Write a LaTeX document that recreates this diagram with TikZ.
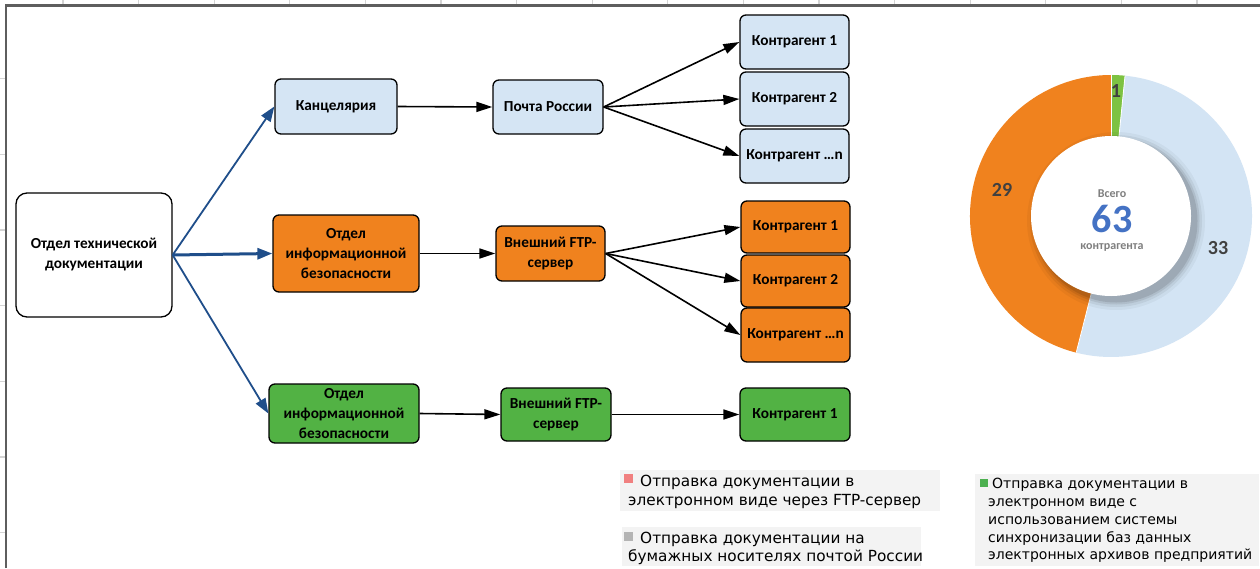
\documentclass[tikz,border=0pt]{standalone}
\usepackage{fontspec}
\setmainfont{Carlito}
\newfontfamily\legfont{DejaVu Sans}
\usetikzlibrary{arrows.meta,calc}
\definecolor{boxblue}{HTML}{D5E5F4}
\definecolor{boxorange}{HTML}{F0821E}
\definecolor{boxgreen}{HTML}{52B244}
\definecolor{pieblue}{HTML}{D3E4F4}
\definecolor{pieorange}{HTML}{F0821E}
\definecolor{piegreen}{HTML}{7DC242}
\definecolor{arrblue}{HTML}{1F4E8A}
\definecolor{framegray}{HTML}{5E5E5E}
\definecolor{gridgray}{HTML}{D4D4D4}
\definecolor{labgray}{HTML}{404040}
\definecolor{midgray}{HTML}{7F7F7F}
\definecolor{bignum}{HTML}{4472C4}
\definecolor{legbg}{HTML}{F3F3F3}
\definecolor{legred}{HTML}{F08080}
\definecolor{leggray}{HTML}{B4B4B4}
\definecolor{leggreen}{HTML}{4CB050}
\tikzset{
  flowbox/.style={draw=black, line width=1.3pt, rounded corners=6pt, align=center,
    font=\fontsize{15.3}{20}\selectfont\bfseries, inner sep=0pt},
  bluearrow/.style={draw=arrblue, line width=1.8pt, -{Triangle[length=15pt,width=11pt]}},
  blackarrow/.style={draw=black, line width=1.6pt, -{Triangle[length=16pt,width=10pt]}},
  legtext/.style={anchor=base west, inner sep=0pt, font=\legfont\fontsize{15.3}{18}\selectfont, text=black},
  legtextsm/.style={anchor=base west, inner sep=0pt, font=\legfont\fontsize{14}{16}\selectfont, text=black},
  pielabel/.style={font=\fontsize{20}{24}\selectfont\bfseries, text=labgray, inner sep=0pt},
}
\begin{document}
\begin{tikzpicture}[x=1pt,y=-1pt]
\useasboundingbox (0,0) rectangle (1260,568);
\fill[white] (0,0) rectangle (1260,568);
% spreadsheet grid remnants
\foreach \i in {0,...,15} {
  \draw[gridgray, line width=1.2pt] ({63+75.6*\i},0) -- ({63+75.6*\i},4);
}
\foreach \i in {0,...,6} {
  \draw[gridgray, line width=1.2pt] (0,{78.5+75.7*\i}) -- (5,{78.5+75.7*\i});
}
% frame
\draw[framegray, line width=2.2pt] (6,568) -- (6,5.5) -- (1260,5.5);

% nodes
\node[flowbox, fill=white, minimum width=156pt, minimum height=124pt, rounded corners=11pt] (m) at (94,255) {Отдел технической\\документации};

\node[flowbox, fill=boxblue, minimum width=122pt, minimum height=55pt] (kanc) at (336,106.5) {Канцелярия};
\node[flowbox, fill=boxblue, minimum width=110pt, minimum height=54pt] (post) at (548,107) {Почта России};
\node[flowbox, fill=boxblue, minimum width=109pt, minimum height=54pt] (b1) at (794.5,42) {Контрагент 1};
\node[flowbox, fill=boxblue, minimum width=109pt, minimum height=54pt] (b2) at (794.5,99) {Контрагент 2};
\node[flowbox, fill=boxblue, minimum width=109pt, minimum height=54pt] (bn) at (794.5,156) {Контрагент …n};

\node[flowbox, fill=boxorange, minimum width=146pt, minimum height=77pt] (odep) at (346,253.5) {Отдел\\информационной\\безопасности};
\node[flowbox, fill=boxorange, minimum width=109pt, minimum height=55pt] (oftp) at (550.5,253.5) {Внешний FTP-\\сервер};
\node[flowbox, fill=boxorange, minimum width=109pt, minimum height=52pt] (o1) at (795.5,227) {Контрагент  1};
\node[flowbox, fill=boxorange, minimum width=109pt, minimum height=52pt] (o2) at (795.5,281) {Контрагент 2};
\node[flowbox, fill=boxorange, minimum width=109pt, minimum height=54pt] (on) at (795.5,335) {Контрагент …n};

\node[flowbox, fill=boxgreen, minimum width=150pt, minimum height=59pt] (gdep) at (344,413.5) {Отдел\\информационной\\безопасности};
\node[flowbox, fill=boxgreen, minimum width=110pt, minimum height=53pt] (gftp) at (556,414.5) {Внешний FTP-\\сервер};
\node[flowbox, fill=boxgreen, minimum width=110pt, minimum height=53pt] (g1) at (795,414.5) {Контрагент 1};

% blue arrows
\coordinate (ms) at (m.east);
\draw[bluearrow] (ms) -- (kanc.west);
\draw[bluearrow, line width=3pt] (ms) -- (odep.west);
\draw[bluearrow] (ms) -- (gdep.west);

% black arrows
\draw[blackarrow] (kanc.east) -- (post.west);
\draw[blackarrow] (post.east) -- (b1.west);
\draw[blackarrow] (post.east) -- (b2.west);
\draw[blackarrow] (post.east) -- (bn.west);
\draw[blackarrow] (odep.east) -- (oftp.west);
\draw[blackarrow] (oftp.east) -- (o1.west);
\draw[blackarrow] (oftp.east) -- (o2.west);
\draw[blackarrow] (oftp.east) -- (on.west);
\draw[blackarrow] (gdep.east) -- (gftp.west);
\draw[blackarrow] (gftp.east) -- (g1.west);

% donut chart
\coordinate (pc) at (1111,216);
\coordinate (pcs) at (1116,221);
\fill[piegreen] (pc) -- ++(90:141pt) arc[start angle=90, end angle=84.29, radius=141pt] -- cycle;
\fill[pieblue] (pc) -- ++(84.29:141pt) arc[start angle=84.29, end angle=-104.29, radius=141pt] -- cycle;
\fill[pieorange] (pc) -- ++(-104.29:141pt) arc[start angle=-104.29, end angle=-270, radius=141pt] -- cycle;
\draw[white, line width=0.8pt] (pc) -- ++(90:141pt);
\draw[white, line width=0.8pt] (pc) -- ++(84.29:141pt);
\draw[white, line width=0.8pt] (pc) -- ++(-104.29:141pt);
% inner shadow
\foreach \r/\o in {89/0.04, 86/0.06, 83.5/0.08, 81.5/0.10} {
  \fill[black, opacity=\o] (pcs) circle[radius=\r pt];
}
\fill[white] (pc) circle[radius=80pt];
\node[font=\fontsize{12}{14}\selectfont\bfseries, text=midgray, inner sep=0pt, anchor=base] (vsego) at (1112,197) {Всего};
\node[font=\fontsize{40}{44}\selectfont\bfseries, text=bignum, inner sep=0pt, anchor=base] (total) at (1112,232) {63};
\node[font=\fontsize{12}{14}\selectfont\bfseries, text=midgray, inner sep=0pt, anchor=base] (kontr) at (1112,249) {контрагента};
\node[pielabel] (l1) at (1116,91) {1};
\node[pielabel] (l29) at (1002,190) {29};
\node[pielabel] (l33) at (1218,248) {33};

% legends
\fill[legbg] (620,470) rectangle (940,511);
\fill[legbg] (622,527) rectangle (921,566);
\fill[legbg] (975,474) rectangle (1259,566);
\fill[legred] (624,474) rectangle (633,483);
\node[legtext] (la1) at (640,486) {Отправка документации в};
\node[legtext] (la2) at (628,505) {электронном виде через FTP-сервер};
\fill[leggray] (624,532) rectangle (633,541);
\node[legtext] (lb1) at (640,543) {Отправка документации на};
\node[legtext] (lb2) at (628,561) {бумажных носителях почтой России};
\fill[leggreen] (980,479) rectangle (988,487);
\node[legtextsm] (lc1) at (992,488) {Отправка документации в};
\node[legtextsm] (lc2) at (988,506) {электронном виде с};
\node[legtextsm] (lc3) at (988,524) {использованием системы};
\node[legtextsm] (lc4) at (988,542) {синхронизации баз данных};
\node[legtextsm] (lc5) at (988,559) {электронных архивов предприятий};
\end{tikzpicture}
\end{document}
